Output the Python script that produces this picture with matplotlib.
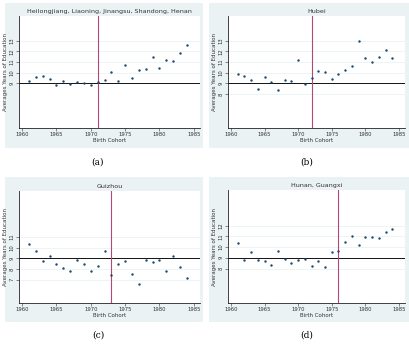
import matplotlib
matplotlib.use("Agg")
import matplotlib.pyplot as plt
from matplotlib.patches import Rectangle

W, H = 410, 345

years = list(range(1961, 1985))

titles = ["Heilongjiang, Liaoning, Jinangsu, Shandong, Henan", "Hubei", "Guizhou", "Hunan, Guangxi"]
captions = ["(a)", "(b)", "(c)", "(d)"]
cutoffs = [1971, 1972, 1973, 1976]
yticks = [[9, 10, 11, 12, 13], [8, 9, 10, 11, 12, 13], [7, 8, 9, 10, 11], [8, 9, 10, 11, 12]]

edu_a = [9.19, 9.59, 9.68, 9.40, 8.84, 9.16, 8.91, 9.09, 9.00, 8.81, 9.09, 9.31,
         10.02, 9.25, 10.67, 9.50, 10.21, 10.33, 11.42, 10.40, 11.14, 11.05, 11.82, 12.57]
edu_b = [9.84, 9.65, 9.31, 8.41, 9.59, 9.12, 8.32, 9.28, 9.19, 11.14, 8.97, 9.47,
         10.12, 10.02, 9.37, 9.87, 10.27, 10.61, 13.00, 11.33, 10.98, 11.48, 12.10, 11.33]
edu_c = [10.33, 9.63, 8.71, 9.22, 8.46, 8.05, 7.79, 8.81, 8.46, 7.79, 8.27, 9.70,
         7.38, 8.49, 8.71, 7.54, 6.62, 8.84, 8.65, 8.87, 7.76, 9.25, 8.17, 7.13]
edu_d = [10.34, 8.81, 9.50, 8.84, 8.66, 8.31, 9.59, 8.91, 8.56, 8.81, 8.91, 8.22,
         8.72, 8.16, 9.53, 9.63, 10.50, 11.00, 10.16, 10.97, 10.94, 10.81, 11.38, 11.66]
series = [edu_a, edu_b, edu_c, edu_d]

# pixel boxes: background (x0, y0, x1, y1), axes (x0, y0, x1, y1), caption centre
bg_boxes = [(5, 3, 203, 148), (209, 3, 409, 148), (5, 177, 203, 322), (209, 177, 409, 322)]
ax_boxes = [(19, 16, 200, 128), (228, 16, 405, 128), (19, 191, 200, 303), (228, 190, 405, 303)]
cap_pos = [(98, 162), (307, 162), (98, 335), (307, 335)]

bg = "#EAF2F3"
navy = "#1A476F"
cut_col = "#B0487A"

fig = plt.figure(figsize=(W / 100, H / 100), dpi=100)
fig.patch.set_facecolor("white")

for i in range(4):
    x0, y0, x1, y1 = bg_boxes[i]
    fig.patches.append(Rectangle((x0 / W, 1 - y1 / H), (x1 - x0) / W, (y1 - y0) / H,
                                 transform=fig.transFigure, facecolor=bg, edgecolor="none", zorder=-5))
    ax0, ay0, ax1, ay1 = ax_boxes[i]
    ax = fig.add_axes([ax0 / W, 1 - ay1 / H, (ax1 - ax0) / W, (ay1 - ay0) / H])
    ax.set_zorder(2)
    ax.set_facecolor("white")
    ax.scatter(years, series[i], s=3, color=navy, zorder=3, linewidths=0)
    ax.axhline(9, color="#111111", lw=0.7, zorder=2)
    ax.axvline(cutoffs[i], color=cut_col, lw=0.8, zorder=2)
    ax.set_xlim(1959.55, 1985.9)
    ax.set_ylim(4.8, 15.3)
    ax.set_xticks([1960, 1965, 1970, 1975, 1980, 1985])
    ax.set_yticks(yticks[i])
    ax.set_yticklabels([str(t) for t in yticks[i]], rotation=90, va="center")
    ax.grid(axis="y", color=bg, lw=0.6, zorder=1)
    ax.set_axisbelow(True)
    ax.tick_params(labelsize=3.8, length=2, width=0.4, pad=1, colors="#333333")
    for s in ["top", "right"]:
        ax.spines[s].set_visible(False)
    for s in ["left", "bottom"]:
        ax.spines[s].set_linewidth(0.6)
        ax.spines[s].set_color("#222222")
    ax.set_xlabel("Birth Cohort", fontsize=4, labelpad=0.5, color="#333333")
    ax.set_ylabel("Averages Years of Education", fontsize=4, labelpad=1, color="#333333")
    ax.set_title(titles[i], fontsize=4.6, pad=2.5, color="#333333")
    cx, cy = cap_pos[i]
    fig.text(cx / W, 1 - cy / H, captions[i], ha="center", va="center", fontsize=6.5,
             family="DejaVu Serif")

fig.savefig("out.png", dpi=100, facecolor="white")
